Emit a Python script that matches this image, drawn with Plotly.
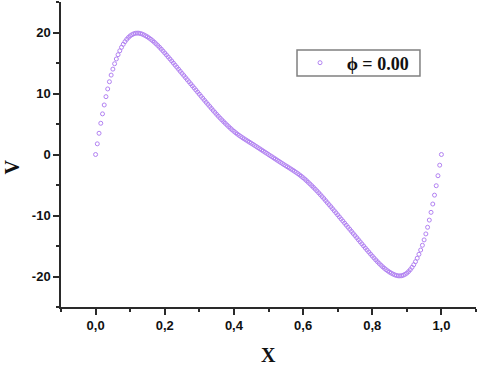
import plotly.graph_objects as go

# x grid of the sampled profile (step 0.005)
x_vals = [
    0.000, 0.005, 0.010, 0.015, 0.020, 0.025, 0.030, 0.035, 0.040, 0.045,
    0.050, 0.055, 0.060, 0.065, 0.070, 0.075, 0.080, 0.085, 0.090, 0.095,
    0.100, 0.105, 0.110, 0.115, 0.120, 0.125, 0.130, 0.135, 0.140, 0.145,
    0.150, 0.155, 0.160, 0.165, 0.170, 0.175, 0.180, 0.185, 0.190, 0.195,
    0.200, 0.205, 0.210, 0.215, 0.220, 0.225, 0.230, 0.235, 0.240, 0.245,
    0.250, 0.255, 0.260, 0.265, 0.270, 0.275, 0.280, 0.285, 0.290, 0.295,
    0.300, 0.305, 0.310, 0.315, 0.320, 0.325, 0.330, 0.335, 0.340, 0.345,
    0.350, 0.355, 0.360, 0.365, 0.370, 0.375, 0.380, 0.385, 0.390, 0.395,
    0.400, 0.405, 0.410, 0.415, 0.420, 0.425, 0.430, 0.435, 0.440, 0.445,
    0.450, 0.455, 0.460, 0.465, 0.470, 0.475, 0.480, 0.485, 0.490, 0.495,
    0.500, 0.505, 0.510, 0.515, 0.520, 0.525, 0.530, 0.535, 0.540, 0.545,
    0.550, 0.555, 0.560, 0.565, 0.570, 0.575, 0.580, 0.585, 0.590, 0.595,
    0.600, 0.605, 0.610, 0.615, 0.620, 0.625, 0.630, 0.635, 0.640, 0.645,
    0.650, 0.655, 0.660, 0.665, 0.670, 0.675, 0.680, 0.685, 0.690, 0.695,
    0.700, 0.705, 0.710, 0.715, 0.720, 0.725, 0.730, 0.735, 0.740, 0.745,
    0.750, 0.755, 0.760, 0.765, 0.770, 0.775, 0.780, 0.785, 0.790, 0.795,
    0.800, 0.805, 0.810, 0.815, 0.820, 0.825, 0.830, 0.835, 0.840, 0.845,
    0.850, 0.855, 0.860, 0.865, 0.870, 0.875, 0.880, 0.885, 0.890, 0.895,
    0.900, 0.905, 0.910, 0.915, 0.920, 0.925, 0.930, 0.935, 0.940, 0.945,
    0.950, 0.955, 0.960, 0.965, 0.970, 0.975, 0.980, 0.985, 0.990, 0.995,
    1.000,
]

# V values
v_vals = [
    0.00, 1.75, 3.48, 5.12, 6.66, 8.12, 9.48, 10.75, 11.93, 13.02,
    14.00, 14.88, 15.66, 16.36, 17.00, 17.57, 18.07, 18.50, 18.88, 19.19,
    19.45, 19.64, 19.78, 19.87, 19.90, 19.89, 19.83, 19.73, 19.60, 19.45,
    19.28, 19.09, 18.88, 18.65, 18.40, 18.14, 17.86, 17.57, 17.27, 16.96,
    16.64, 16.32, 15.99, 15.66, 15.33, 14.99, 14.65, 14.31, 13.97, 13.63,
    13.29, 12.95, 12.61, 12.27, 11.93, 11.59, 11.25, 10.91, 10.57, 10.23,
    9.89, 9.55, 9.21, 8.87, 8.54, 8.21, 7.88, 7.55, 7.22, 6.90,
    6.58, 6.27, 5.97, 5.68, 5.39, 5.11, 4.83, 4.56, 4.29, 4.04,
    3.80, 3.57, 3.35, 3.14, 2.94, 2.75, 2.56, 2.38, 2.20, 2.02,
    1.85, 1.67, 1.48, 1.30, 1.11, 0.93, 0.74, 0.56, 0.37, 0.19,
    0.00, -0.19, -0.37, -0.56, -0.74, -0.93, -1.11, -1.30, -1.48, -1.67,
    -1.85, -2.02, -2.20, -2.38, -2.56, -2.75, -2.94, -3.14, -3.35, -3.57,
    -3.80, -4.04, -4.29, -4.56, -4.83, -5.11, -5.39, -5.68, -5.97, -6.27,
    -6.58, -6.90, -7.22, -7.55, -7.88, -8.21, -8.54, -8.87, -9.21, -9.55,
    -9.89, -10.23, -10.57, -10.91, -11.25, -11.59, -11.93, -12.27, -12.61, -12.95,
    -13.29, -13.63, -13.97, -14.31, -14.65, -14.99, -15.33, -15.66, -15.99, -16.32,
    -16.64, -16.96, -17.27, -17.57, -17.86, -18.14, -18.40, -18.65, -18.88, -19.09,
    -19.28, -19.45, -19.60, -19.73, -19.83, -19.89, -19.90, -19.87, -19.78, -19.64,
    -19.45, -19.19, -18.88, -18.50, -18.07, -17.57, -17.00, -16.36, -15.66, -14.88,
    -14.00, -13.02, -11.93, -10.75, -9.48, -8.12, -6.66, -5.12, -3.48, -1.75,
    0.00,
]

x_ticks = [0.0, 0.2, 0.4, 0.6, 0.8, 1.0]
x_ticktext = ["0,0", "0,2", "0,4", "0,6", "0,8", "1,0"]
y_ticks = [-20, -10, 0, 10, 20]
y_ticktext = ["-20", "-10", "0", "10", "20"]

purple = "#B282F2"
axis_col = "#2a2a2a"
tick_font = dict(family="Liberation Sans, Arial", size=13, color="#111", weight="bold")
title_font = dict(family="Liberation Serif, Times New Roman", size=20, color="#111", weight="bold")

fig = go.Figure()
fig.add_trace(go.Scatter(
    x=x_vals, y=v_vals, mode="markers", name="\u2006\u2009\u03d5 = 0.00",
    marker=dict(symbol="circle-open", size=4, color=purple, line=dict(width=1, color=purple)),
))

fig.update_layout(
    width=480, height=365,
    margin=dict(l=61, r=4, t=2, b=58),
    paper_bgcolor="white", plot_bgcolor="white",
    showlegend=True,
    legend=dict(
        x=0.576, y=0.80, xanchor="left", yanchor="middle",
        borderwidth=0, bgcolor="rgba(0,0,0,0)",
        font=dict(family="Liberation Serif, Times New Roman", size=18, color="#111", weight="bold"),
    ),
    shapes=[
        # legend frame
        dict(type="rect", xref="paper", yref="paper",
             x0=0.5687, x1=0.865, y0=0.757, y1=0.843,
             line=dict(color="#808080", width=1.5), layer="below"),
    ],
    annotations=[
        dict(text="X", xref="paper", yref="paper", x=0.501, y=-0.157,
             showarrow=False, font=title_font, xanchor="center", yanchor="middle"),
        dict(text="V", xref="paper", yref="paper", x=-0.117, y=0.459,
             showarrow=False, font=title_font, textangle=-90,
             xanchor="center", yanchor="middle"),
    ],
)

fig.update_xaxes(
    range=[-0.1, 1.1], showgrid=False, zeroline=False,
    showline=True, linecolor=axis_col, linewidth=1.5,
    tickmode="array", tickvals=x_ticks, ticktext=x_ticktext,
    ticks="outside", ticklen=6, tickwidth=1.5, tickcolor=axis_col,
    tickfont=tick_font,
    minor=dict(ticks="outside", ticklen=3, tickwidth=1.5, tickcolor=axis_col,
               tickmode="linear", tick0=-0.1, dtick=0.1),
)
fig.update_yaxes(
    range=[-25, 25], showgrid=False, zeroline=False,
    showline=True, linecolor=axis_col, linewidth=1.5,
    tickmode="array", tickvals=y_ticks, ticktext=y_ticktext,
    ticks="outside", ticklen=6, tickwidth=1.5, tickcolor=axis_col,
    tickfont=tick_font,
    minor=dict(ticks="outside", ticklen=3, tickwidth=1.5, tickcolor=axis_col,
               tickmode="linear", tick0=-25, dtick=5),
)

# drop the browser's default 8px body margin so the figure sits at (0, 0)
fig.write_html("out.html", config={"displayModeBar": False},
               post_script="document.body.style.margin='0';")
